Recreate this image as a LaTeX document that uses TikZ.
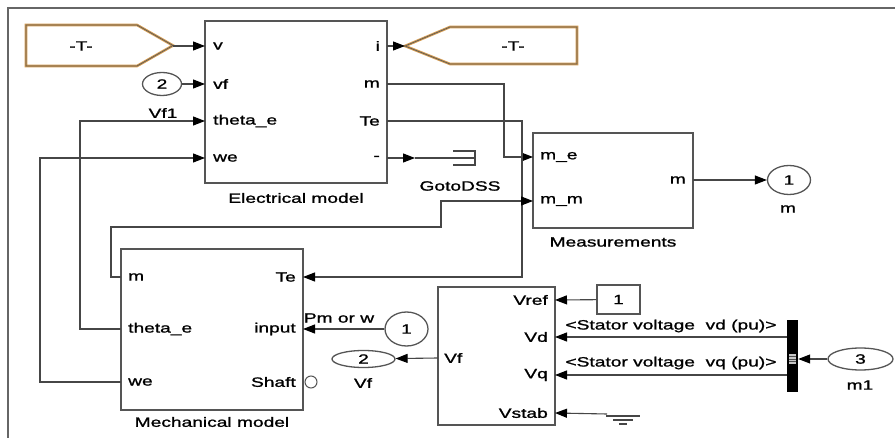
\documentclass[tikz,border=0pt]{standalone}
\usepackage{fontspec}
\setmainfont{Liberation Sans}[FakeStretch=1.42,FakeBold=1.2]
\usetikzlibrary{arrows.meta,shapes.geometric}
\definecolor{wire}{RGB}{70,70,70}
\definecolor{boxc}{RGB}{85,85,85}
\definecolor{tagc}{RGB}{212,155,80}
\newcommand\dfont{\fontsize{13.5}{16}\selectfont}
\begin{document}
\begin{tikzpicture}[x=1pt,y=-1pt,font=\dfont,
  blk/.style={draw=boxc,line width=1.4pt,inner sep=0pt},
  sig/.style={draw=wire,line width=1.1pt,-{Triangle[length=12pt,width=9pt,color=black]}},
  wirel/.style={draw=wire,line width=1.1pt},
  lbl/.style={inner sep=0pt},
  portblk/.style={draw=boxc,line width=1.3pt,ellipse,inner sep=0pt},
  tagline/.style={draw=tagc,line width=2.6pt,line join=miter},
  tagedge/.style={draw=black!65,line width=0.7pt,line join=miter}]
\useasboundingbox (0,0) rectangle (895,438);
\fill[white] (0,0) rectangle (895,438);
% frame
\draw[black!60,line width=1.5pt] (8,438) -- (8,8) -- (895,8);

% ---------- Electrical model ----------
\node[blk,minimum width=182pt,minimum height=162pt] (E) at (296,102) {};
\node[lbl] (Etitle) at (296,198) {Electrical model};
\coordinate (Ein1) at (205,46);
\coordinate (Ein2) at (205,84);
\coordinate (Ein3) at (205,121);
\coordinate (Ein4) at (205,158);
\coordinate (Eout1) at (387,46);
\coordinate (Eout2) at (387,84);
\coordinate (Eout3) at (387,121);
\coordinate (Eout4) at (387,158);
\node[lbl,anchor=west] (Elv) at (213,46) {v};
\node[lbl,anchor=west] (Elvf) at (213,84) {vf};
\node[lbl,anchor=west] (Elth) at (213,121) {theta\_e};
\node[lbl,anchor=west] (Elwe) at (213,158) {we};
\node[lbl,anchor=east] (Eli) at (380,46) {i};
\node[lbl,anchor=east] (Elm) at (380,84) {m};
\node[lbl,anchor=east] (ElTe) at (380,121) {Te};
\node[lbl,anchor=east] (Eld) at (380,158) {-};

% ---------- Mechanical model ----------
\node[blk,minimum width=182pt,minimum height=161pt] (M) at (212,329.5) {};
\node[lbl] (Mtitle) at (212,422) {Mechanical model};
\coordinate (Mm) at (121,277);
\coordinate (Mth) at (121,329);
\coordinate (Mwe) at (121,382);
\coordinate (MTe) at (303,277);
\coordinate (Minp) at (303,329);
\node[lbl,anchor=west] (Mlm) at (128,277) {m};
\node[lbl,anchor=west] (Mlth) at (128,329) {theta\_e};
\node[lbl,anchor=west] (Mlwe) at (128,382) {we};
\node[lbl,anchor=east] (MlTe) at (296,277) {Te};
\node[lbl,anchor=east] (Mlin) at (296,329) {input};
\node[lbl,anchor=east] (Mlsh) at (296,382) {Shaft};
\node[draw=boxc,circle,minimum size=12pt,inner sep=0pt,line width=1pt] (shaft) at (311,382) {};

% ---------- Measurements ----------
\node[blk,minimum width=160pt,minimum height=95pt] (Ms) at (613,180.5) {};
\node[lbl] (Mstitle) at (613,242) {Measurements};
\coordinate (Msme) at (533,157);
\coordinate (Msmm) at (533,201);
\coordinate (Msout) at (693,180);
\node[lbl,anchor=west] (Mslme) at (540,157) {m\_e};
\node[lbl,anchor=west] (Mslmm) at (540,201) {m\_m};
\node[lbl,anchor=east] (Mslm) at (686,180) {m};

% ---------- Excitation block ----------
\node[blk,minimum width=117pt,minimum height=138pt] (X) at (496.5,356) {};
\coordinate (XVref) at (555,300);
\coordinate (XVd) at (555,337);
\coordinate (XVq) at (555,375);
\coordinate (XVstab) at (555,413);
\coordinate (XVf) at (438,358);
\node[lbl,anchor=east] (Xlref) at (548,300) {Vref};
\node[lbl,anchor=east] (Xlvd) at (548,337) {Vd};
\node[lbl,anchor=east] (Xlvq) at (548,375) {Vq};
\node[lbl,anchor=east] (Xlst) at (548,413) {Vstab};
\node[lbl,anchor=west] (Xlvf) at (444,358) {Vf};

% ---------- Goto tags ----------
\draw[tagline] (26,25) -- (137,25) -- (173,45.5) -- (137,66) -- (26,66) -- cycle;
\draw[tagedge] (26,25) -- (137,25) -- (173,45.5) -- (137,66) -- (26,66) -- cycle;
\node[lbl] (GLt) at (81,46) {-T-};
\coordinate (GL) at (173,46);
\draw[tagline] (405,46) -- (450,27) -- (577,27) -- (577,64) -- (450,64) -- cycle;
\draw[tagedge] (405,46) -- (450,27) -- (577,27) -- (577,64) -- (450,64) -- cycle;
\node[lbl] (GRt) at (513,46) {-T-};
\coordinate (GR) at (405,46);

% ---------- GotoDSS ----------
\coordinate (dss) at (415,158);
\draw[wirel] (dss) -- (475,158);
\draw[wirel] (453,151) -- (475,151) -- (475,165) -- (453,165);
\node[lbl] (dsst) at (460,186) {GotoDSS};

% ---------- ports (ovals) ----------
\node[portblk,minimum width=39pt,minimum height=23pt] (in2) at (162,84) {2};
\node[lbl] (in2t) at (163,113) {Vf1};
\node[portblk,minimum width=43pt,minimum height=29pt] (out1) at (789,180) {1};
\node[lbl] (out1t) at (788,209) {m};
\node[portblk,minimum width=43pt,minimum height=34pt] (in1) at (406.5,329) {1};
\node[lbl] (in1t) at (339,318) {Pm or w};
\node[portblk,minimum width=63pt,minimum height=17pt] (out2) at (363.5,359) {2};
\node[lbl] (out2t) at (363,383) {Vf};
\node[portblk,minimum width=65pt,minimum height=22pt] (in3) at (860.5,359) {3};
\node[lbl] (in3t) at (860,385) {m1};

% ---------- constant ----------
\node[blk,minimum width=43pt,minimum height=29pt] (c1) at (618.5,299.5) {1};

% ---------- bus selector ----------
\node[fill=black,minimum width=11pt,minimum height=72pt,inner sep=0pt] (bus) at (792.5,356) {};
\fill[gray!45] (789,354) rectangle (796,364);
\draw[black!70,line width=0.6pt] (789,356.5) -- (796,356.5) (789,359) -- (796,359) (789,361.5) -- (796,361.5);
\node[lbl] (vdt) at (671,326) {<Stator voltage\ \ vd (pu)>};
\node[lbl] (vqt) at (671,363) {<Stator voltage\ \ vq (pu)>};

% ---------- ground ----------
\coordinate (gnd) at (607,414);
\draw[wirel] (606,416) -- (640,416) (613,420) -- (633,420) (619,424) -- (627,424);

% ---------- connectors ----------
\draw[sig] (GL) -- (Ein1);
\draw[sig] (in2) -- (Ein2);
\draw[sig] (Mth) -- ++(-41,0) |- (Ein3);
\draw[sig] (Mwe) -- ++(-81,0) |- (Ein4);
\draw[sig] (Eout1) -- (GR);
\draw[sig] (Eout2) -- ++(117,0) |- (Msme);
\draw[sig] (Eout3) -- ++(135,0) |- (MTe);
\draw[sig] (Mm) -- ++(-10,0) -- ++(0,-50) -- ++(330,0) |- (Msmm);
\draw[sig] (Eout4) -- (dss);
\draw[sig] (Msout) -- (out1);
\draw[sig] (in1) -- (Minp);
\draw[sig] (XVf) -- (out2);
\draw[sig] (c1) -- (XVref);
\draw[sig] (bus.west |- XVd) -- (XVd);
\draw[sig] (bus.west |- XVq) -- (XVq);
\draw[sig] (in3) -- (bus.east |- in3);
\draw[sig] (gnd) -- (XVstab);
\end{tikzpicture}
\end{document}
